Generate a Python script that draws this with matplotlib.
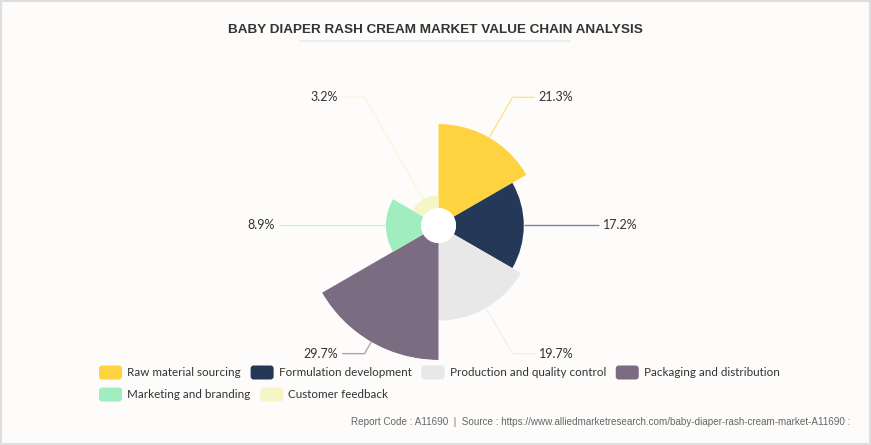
import numpy as np
import matplotlib
matplotlib.use('Agg')
import matplotlib.pyplot as plt
from matplotlib.patches import FancyBboxPatch, Rectangle

# data
stages = ['Raw material sourcing', 'Formulation development', 'Production and quality control',
          'Packaging and distribution', 'Marketing and branding', 'Customer feedback']
shares = [21.3, 17.2, 19.7, 29.7, 8.9, 3.2]
colors = ['#ffd23f', '#243858', '#e8e8e8', '#7b6c82', '#a0edc0', '#f5f5c6']

W, H = 871, 445
BG = '#fdfcfb'
TXT_FONT = ['Lato', 'DejaVu Sans']

fig = plt.figure(figsize=(W / 100, H / 100), dpi=100, facecolor=BG)

# overlay axes in image pixel coordinates (y downwards)
ov = fig.add_axes([0, 0, 1, 1])
ov.set_xlim(0, W)
ov.set_ylim(H, 0)
ov.axis('off')

# rose chart: equal angles, radius by value
cx, cy, R = 438.5, 225.5, 134.5
hole_frac = 17.5 / R
rmax = max(shares) / (1 - hole_frac)
hole = rmax * hole_frac

ax = fig.add_axes([(cx - R) / W, (H - cy - R) / H, 2 * R / W, 2 * R / H], projection='polar')
ax.set_theta_zero_location('N')
ax.set_theta_direction(-1)
ax.set_ylim(0, rmax)
ax.axis('off')

n = len(shares)
width = 2 * np.pi / n
theta = np.arange(n) * width
ax.bar(theta, shares, width=width, bottom=hole, align='edge', color=colors,
       edgecolor='none', linewidth=0)
ax.bar(0, hole, width=2 * np.pi, bottom=0, color='white', edgecolor='none', linewidth=0)


def to_px(th, r):
    return ov.transData.inverted().transform(ax.transData.transform((th, r)))


# labels with leader lines
elbow_r = 148 / R * rmax
for i, v in enumerate(shares):
    mid = theta[i] + width / 2
    p0 = to_px(mid, hole + v)
    p1 = to_px(mid, elbow_r)
    side = 1 if np.sin(mid) > 0 else -1
    seg = 12 + 12 * abs(np.cos(mid))
    p2 = (p1[0] + side * seg, p1[1])
    ov.plot([p0[0], p1[0], p2[0]], [p0[1], p1[1], p2[1]], color=colors[i], alpha=0.6,
            lw=1, solid_capstyle='butt')
    ov.text(p2[0] + side * 4, p2[1], f'{v}%', ha='left' if side > 0 else 'right',
            va='center', fontsize=9, color='#333333', family=TXT_FONT)

# title
ov.text(435, 30, 'BABY DIAPER RASH CREAM MARKET VALUE CHAIN ANALYSIS', ha='center', va='center',
        fontsize=9.7, fontweight='bold', color='#333333', family=['Liberation Sans', 'DejaVu Sans'])
ov.plot([300, 570], [41, 41], color='#ebebeb', lw=1.2)

# legend (flow layout)
renderer = fig.canvas.get_renderer()
rows = [[0, 1, 2, 3], [4, 5]]
row_y = [372.5, 394.5]
for row, y in zip(rows, row_y):
    x = 99
    for i in row:
        ov.add_patch(FancyBboxPatch((x, y - 7), 23, 14, boxstyle='round,pad=0,rounding_size=3',
                                    fc=colors[i], ec='none'))
        t = ov.text(x + 28, y, stages[i], ha='left', va='center', fontsize=8.4,
                    color='#333333', family=TXT_FONT)
        x = x + 28 + t.get_window_extent(renderer).width + 10

# footer
ov.text(850, 422, 'Report Code : A11690  |  Source : https://www.alliedmarketresearch.com/baby-diaper-rash-cream-market-A11690 :',
        ha='right', va='center', fontsize=7.15, color='#666666', family=['Liberation Sans', 'DejaVu Sans'])

# border
ov.add_patch(Rectangle((0.75, 0.75), W - 1.5, H - 1.5, fill=False, ec='#dedede', lw=1.5))

fig.savefig('out.png', dpi=100, facecolor=BG)
